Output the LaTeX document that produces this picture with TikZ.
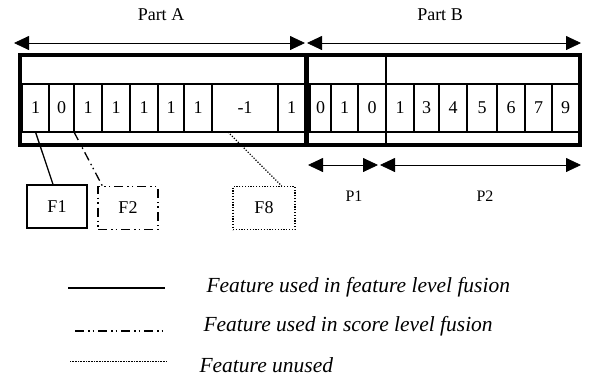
\documentclass[tikz,border=0pt]{standalone}
\usepackage{fontspec}
\setmainfont{Liberation Serif}
\usetikzlibrary{arrows.meta,positioning,calc}

\begin{document}
\begin{tikzpicture}[x=1pt,y=-1pt,
  cell/.style={draw,line width=1.1pt,anchor=north west,minimum height=48pt,
    inner sep=0pt,outer sep=0pt,font=\fontsize{18}{18}\selectfont},
  featbox/.style={draw,minimum width=60pt,minimum height=43pt,
    font=\fontsize{18}{18}\selectfont},
  span/.style={{Triangle[length=15pt,width=14pt]}-{Triangle[length=15pt,width=14pt]},
    line width=0.8pt},
  lbl/.style={font=\fontsize{18}{18}\selectfont},
  plbl/.style={font=\fontsize{16}{16}\selectfont},
  legtext/.style={anchor=west,font=\fontsize{21.5}{21.5}\selectfont\itshape},
  usedline/.style={line width=1.3pt},
  scoreline/.style={line width=1.3pt,
    dash pattern=on 9pt off 4pt on 1.5pt off 3pt on 1.5pt off 4pt},
  unusedline/.style={line width=1.2pt,dash pattern=on 1.2pt off 1.6pt}
]
\useasboundingbox (0,0) rectangle (595,376);

\node[lbl] (partA) at (161,15) {Part A};
\node[lbl] (partB) at (440,15) {Part B};
\coordinate (aL) at (14,43);
\coordinate (aR) at (305,43);
\coordinate (bL) at (307,43);
\coordinate (bR) at (581,43);
\draw[span] (aL) -- (aR);
\draw[span] (bL) -- (bR);

\node[cell,minimum width=27pt] (a1) at (22,84) {1};
\node[cell,minimum width=25pt] (a2) at (49,84) {0};
\node[cell,minimum width=28pt] (a3) at (74,84) {1};
\node[cell,minimum width=28pt] (a4) at (102,84) {1};
\node[cell,minimum width=28pt] (a5) at (130,84) {1};
\node[cell,minimum width=26pt] (a6) at (158,84) {1};
\node[cell,minimum width=28pt] (a7) at (184,84) {1};
\node[cell,minimum width=66pt] (a8) at (212,84) {-1};
\node[cell,minimum width=27pt] (a9) at (278,84) {1};

\node[cell,minimum width=21pt] (b1) at (310,84) {0};
\node[cell,minimum width=27pt] (b2) at (331,84) {1};
\node[cell,minimum width=28pt] (b3) at (358,84) {0};
\node[cell,minimum width=28pt] (b4) at (386,84) {1};
\node[cell,minimum width=25pt] (b5) at (414,84) {3};
\node[cell,minimum width=28pt] (b6) at (439,84) {4};
\node[cell,minimum width=30pt] (b7) at (467,84) {5};
\node[cell,minimum width=28pt] (b8) at (497,84) {6};
\node[cell,minimum width=27pt] (b9) at (525,84) {7};
\node[cell,minimum width=27pt] (b10) at (552,84) {9};

\draw[line width=1.1pt] (386,55) -- (386,145);
\draw[line width=5pt] (306,55) -- (306,145);
\draw[line width=3.5pt] (20,55) rectangle (580,145);

\coordinate (p1L) at (308,165);
\coordinate (p1R) at (378,165);
\coordinate (p2L) at (380,165);
\coordinate (p2R) at (581,165);
\draw[span] (p1L) -- (p1R);
\draw[span] (p2L) -- (p2R);
\node[plbl] (P1) at (354,196) {P1};
\node[plbl] (P2) at (485,196) {P2};

\node[featbox,usedline] (F1) at (57,206.5) {F1};
\node[featbox,scoreline] (F2) at (128,208) {F2};
\node[featbox,unusedline,minimum width=62pt] (F8) at (264,208) {F8};
\draw[usedline] (a1.south) -- ([xshift=-4pt]F1.north);
\draw[scoreline] (a2.south east) -- ([xshift=5pt]F2.north west);
\draw[unusedline] ([xshift=16pt]a8.south west) -- ([xshift=-14pt]F8.north east);

\coordinate (u1) at (68,288);
\coordinate (u2) at (165,288);
\coordinate (s1) at (75,331);
\coordinate (s2) at (165,331);
\coordinate (n1) at (70,361);
\coordinate (n2) at (167,361);
\draw[usedline] (u1) -- (u2);
\draw[scoreline,line width=2pt] (s1) -- (s2);
\draw[line width=0.8pt,dash pattern=on 0.8pt off 0.8pt] (n1) -- (n2);
\node[legtext] (usedtxt) at (203,287) {Feature used in feature level fusion};
\node[legtext] (scoretxt) at (200,326) {Feature used in score level fusion};
\node[legtext] (unusedtxt) at (196,365) {Feature unused};
\end{tikzpicture}
\end{document}
